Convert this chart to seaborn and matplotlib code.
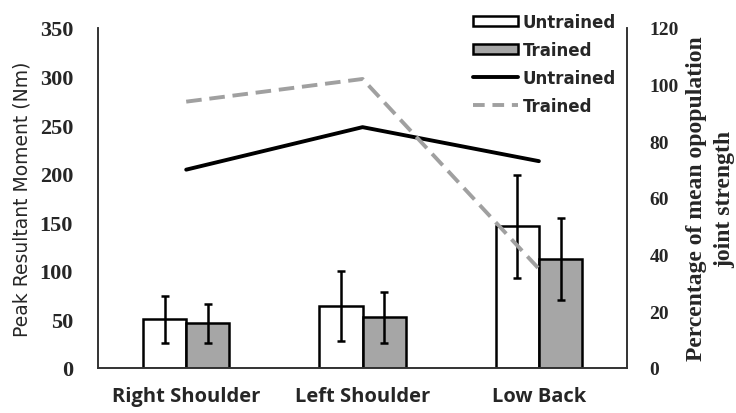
import numpy as np
import pandas as pd
import matplotlib
matplotlib.use("Agg")
import matplotlib.pyplot as plt
import seaborn as sns
from matplotlib.patches import Patch
from matplotlib.lines import Line2D

categories = ["Right Shoulder", "Left Shoulder", "Low Back"]
untrained_moment = [50, 64, 146]
untrained_err = [24, 36, 53]
trained_moment = [46, 52, 112]
trained_err = [20, 26, 42]
untrained_pct = [70, 85, 73]
trained_pct = [94, 102, 35]
left_ticks = [0, 50, 100, 150, 200, 250, 300, 350]
right_ticks = [0, 20, 40, 60, 80, 100, 120]

sns.set_style("white")

fig = plt.figure(figsize=(7.36, 4.14), dpi=100)
ax = fig.add_axes([0.1332, 0.1087, 0.7188, 0.8213])

df = pd.DataFrame({
    "joint": categories * 2,
    "moment": untrained_moment + trained_moment,
    "group": ["Untrained"] * 3 + ["Trained"] * 3,
})
sns.barplot(data=df, x="joint", y="moment", hue="group", order=categories,
            hue_order=["Untrained", "Trained"],
            palette={"Untrained": "white", "Trained": "#A6A6A6"},
            edgecolor="black", linewidth=1.8, width=0.49, errorbar=None,
            legend=False, ax=ax)

errs = {"Untrained": untrained_err, "Trained": trained_err}
vals = {"Untrained": untrained_moment, "Trained": trained_moment}
for cont, g in zip(ax.containers, ["Untrained", "Trained"]):
    xs = [p.get_x() + p.get_width() / 2 for p in cont.patches]
    ax.errorbar(xs, vals[g], yerr=errs[g], fmt="none", ecolor="black",
                elinewidth=1.8, capsize=3, capthick=1.8, zorder=5)

ax.set_ylim(0, 350)
ax.set_xlim(-0.5, 2.5)
ax.set_yticks(left_ticks, labels=[str(t) for t in left_ticks],
              fontfamily="Liberation Serif", fontweight="bold", fontsize=16)
ax.set_xticks(range(len(categories)), labels=categories,
              fontfamily="Open Sans", fontweight="bold", fontsize=14.5)
ax.set_xlabel("")
ax.set_ylabel("Peak Resultant Moment (Nm)", fontsize=13.5, family="DejaVu Sans",
              labelpad=6)
ax.tick_params(axis="x", length=0, pad=13)
ax.tick_params(axis="y", length=0, pad=18)
ax.spines["top"].set_visible(False)
for s in ["left", "bottom", "right"]:
    ax.spines[s].set_color("#333333")
    ax.spines[s].set_linewidth(1.2)

ax2 = ax.twinx()
ldf = pd.DataFrame({
    "pos": [0, 1, 2] * 2,
    "pct": untrained_pct + trained_pct,
    "group": ["Untrained"] * 3 + ["Trained"] * 3,
})
sns.lineplot(data=ldf[ldf.group == "Untrained"], x="pos", y="pct", color="black",
             linewidth=2.8, ax=ax2, legend=False)
sns.lineplot(data=ldf[ldf.group == "Trained"], x="pos", y="pct", color="#A0A0A0",
             linewidth=2.8, linestyle=(0, (4, 2)), ax=ax2, legend=False)
ax2.set_ylim(0, 120)
ax2.set_xlim(-0.5, 2.5)
ax2.set_yticks(right_ticks, labels=[str(t) for t in right_ticks],
               fontfamily="Liberation Serif", fontweight="bold", fontsize=14)
ax2.set_xlabel("")
ax2.set_ylabel("Percentage of mean opopulation\njoint strength", family="Liberation Serif",
               fontweight="bold", fontsize=17, linespacing=1.5, labelpad=5)
ax2.tick_params(axis="y", length=0, pad=16)
ax2.spines["top"].set_visible(False)
for s in ["left", "bottom", "right"]:
    ax2.spines[s].set_color("#333333")
    ax2.spines[s].set_linewidth(1.2)

handles = [
    Patch(facecolor="white", edgecolor="black", linewidth=1.8, label="Untrained"),
    Patch(facecolor="#A6A6A6", edgecolor="black", linewidth=1.8, label="Trained"),
    Line2D([], [], color="black", linewidth=2.8, label="Untrained"),
    Line2D([], [], color="#A0A0A0", linewidth=2.8, linestyle=(0, (3, 2)), label="Trained"),
]
fig.legend(handles=handles, loc="upper left", bbox_to_anchor=(0.642, 0.966),
           frameon=False, prop={"family": "DejaVu Sans", "weight": "bold", "size": 12},
           handlelength=2.7, handleheight=0.6, handletextpad=0.3, labelspacing=0.6,
           borderaxespad=0, borderpad=0)

fig.savefig("out.png", dpi=100)
